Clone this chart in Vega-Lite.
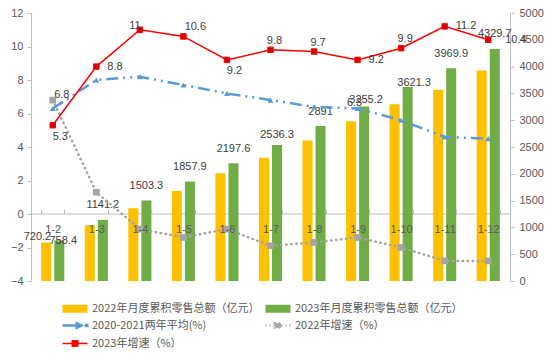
{
  "$schema": "https://vega.github.io/schema/vega-lite/v6.json",
  "width": 479,
  "height": 268,
  "autosize": {"type": "none"},
  "padding": {"left": 31, "top": 13, "right": 44, "bottom": 81},
  "background": "white",
  "config": {"view": {"stroke": null}, "font": "Liberation Sans"},
  "datasets": {
    "d": [
      {"m": "1-2", "series": "2022年月度累积零售总额（亿元）", "v": 720.2},
      {"m": "1-3", "series": "2022年月度累积零售总额（亿元）", "v": 1041},
      {"m": "1-4", "series": "2022年月度累积零售总额（亿元）", "v": 1357},
      {"m": "1-5", "series": "2022年月度累积零售总额（亿元）", "v": 1679},
      {"m": "1-6", "series": "2022年月度累积零售总额（亿元）", "v": 2008},
      {"m": "1-7", "series": "2022年月度累积零售总额（亿元）", "v": 2300},
      {"m": "1-8", "series": "2022年月度累积零售总额（亿元）", "v": 2621},
      {"m": "1-9", "series": "2022年月度累积零售总额（亿元）", "v": 2980},
      {"m": "1-10", "series": "2022年月度累积零售总额（亿元）", "v": 3296},
      {"m": "1-11", "series": "2022年月度累积零售总额（亿元）", "v": 3569},
      {"m": "1-12", "series": "2022年月度累积零售总额（亿元）", "v": 3928},
      {"m": "1-2", "series": "2023年月度累积零售总额（亿元）", "v": 758.4},
      {"m": "1-3", "series": "2023年月度累积零售总额（亿元）", "v": 1141.2},
      {"m": "1-4", "series": "2023年月度累积零售总额（亿元）", "v": 1503.3},
      {"m": "1-5", "series": "2023年月度累积零售总额（亿元）", "v": 1857.9},
      {"m": "1-6", "series": "2023年月度累积零售总额（亿元）", "v": 2197.6},
      {"m": "1-7", "series": "2023年月度累积零售总额（亿元）", "v": 2536.3},
      {"m": "1-8", "series": "2023年月度累积零售总额（亿元）", "v": 2891},
      {"m": "1-9", "series": "2023年月度累积零售总额（亿元）", "v": 3255.2},
      {"m": "1-10", "series": "2023年月度累积零售总额（亿元）", "v": 3621.3},
      {"m": "1-11", "series": "2023年月度累积零售总额（亿元）", "v": 3969.9},
      {"m": "1-12", "series": "2023年月度累积零售总额（亿元）", "v": 4329.7},
      {"m": "1-2", "series": "2020-2021两年平均(%)", "v": 6.3},
      {"m": "1-3", "series": "2020-2021两年平均(%)", "v": 8.0},
      {"m": "1-4", "series": "2020-2021两年平均(%)", "v": 8.2},
      {"m": "1-5", "series": "2020-2021两年平均(%)", "v": 7.7},
      {"m": "1-6", "series": "2020-2021两年平均(%)", "v": 7.2},
      {"m": "1-7", "series": "2020-2021两年平均(%)", "v": 6.8},
      {"m": "1-8", "series": "2020-2021两年平均(%)", "v": 6.4},
      {"m": "1-9", "series": "2020-2021两年平均(%)", "v": 6.3},
      {"m": "1-10", "series": "2020-2021两年平均(%)", "v": 5.6},
      {"m": "1-11", "series": "2020-2021两年平均(%)", "v": 4.6},
      {"m": "1-12", "series": "2020-2021两年平均(%)", "v": 4.5},
      {"m": "1-2", "series": "2022年增速（%）", "v": 6.8},
      {"m": "1-3", "series": "2022年增速（%）", "v": 1.3},
      {"m": "1-4", "series": "2022年增速（%）", "v": -0.9},
      {"m": "1-5", "series": "2022年增速（%）", "v": -1.4},
      {"m": "1-6", "series": "2022年增速（%）", "v": -0.9},
      {"m": "1-7", "series": "2022年增速（%）", "v": -1.9},
      {"m": "1-8", "series": "2022年增速（%）", "v": -1.7},
      {"m": "1-9", "series": "2022年增速（%）", "v": -1.4},
      {"m": "1-10", "series": "2022年增速（%）", "v": -2.0},
      {"m": "1-11", "series": "2022年增速（%）", "v": -2.8},
      {"m": "1-12", "series": "2022年增速（%）", "v": -2.8},
      {"m": "1-2", "series": "2023年增速（%）", "v": 5.3},
      {"m": "1-3", "series": "2023年增速（%）", "v": 8.8},
      {"m": "1-4", "series": "2023年增速（%）", "v": 11},
      {"m": "1-5", "series": "2023年增速（%）", "v": 10.6},
      {"m": "1-6", "series": "2023年增速（%）", "v": 9.2},
      {"m": "1-7", "series": "2023年增速（%）", "v": 9.8},
      {"m": "1-8", "series": "2023年增速（%）", "v": 9.7},
      {"m": "1-9", "series": "2023年增速（%）", "v": 9.2},
      {"m": "1-10", "series": "2023年增速（%）", "v": 9.9},
      {"m": "1-11", "series": "2023年增速（%）", "v": 11.2},
      {"m": "1-12", "series": "2023年增速（%）", "v": 10.4}
    ]
  },
  "data": {"name": "d"},
  "resolve": {"scale": {"y": "independent"}},
  "layer": [
    {
      "data": {"values": [{}]},
      "mark": {"type": "rule", "color": "#BFBFBF", "strokeWidth": 1},
      "encoding": {
        "y": {"datum": 0, "type": "quantitative", "scale": {"domain": [-4, 12], "nice": false, "zero": false}, "axis": null}
      }
    },
    {
      "transform": [{"filter": {"field": "series", "oneOf": ["2022年月度累积零售总额（亿元）", "2023年月度累积零售总额（亿元）"]}}],
      "encoding": {
        "x": {"field": "m", "type": "nominal", "scale": {"domain": ["1-2","1-3","1-4","1-5","1-6","1-7","1-8","1-9","1-10","1-11","1-12"], "paddingInner": 0.47, "paddingOuter": 0.235},
          "axis": {"orient": "bottom", "offset": -67, "domain": false, "ticks": true, "tickBand": "extent", "tickSize": -5, "tickColor": "#BFBFBF", "labelPadding": 14, "labelColor": "#595959", "labelFontSize": 11, "labelFont": "Liberation Sans", "labelAngle": 0, "title": null, "zindex": 1, "grid": false}},
        "y": {"field": "v", "type": "quantitative", "scale": {"domain": [0, 5000], "nice": false},
          "axis": {"orient": "right", "values": [0,500,1000,1500,2000,2500,3000,3500,4000,4500,5000], "format": "d", "domain": true, "domainColor": "#BFBFBF", "ticks": true, "tickColor": "#BFBFBF", "tickSize": 4, "labelPadding": 5, "labelColor": "#595959", "labelFontSize": 11, "labelFont": "Liberation Sans", "title": null, "grid": false}}
      },
      "layer": [
        {
          "mark": {"type": "bar"},
          "encoding": {
            "xOffset": {"field": "series", "type": "nominal", "sort": ["2022年月度累积零售总额（亿元）", "2023年月度累积零售总额（亿元）"], "scale": {"paddingInner": 0.23}},
            "color": {"field": "series", "type": "nominal",
              "scale": {"domain": ["2022年月度累积零售总额（亿元）", "2020-2021两年平均(%)", "2023年增速（%）", "2023年月度累积零售总额（亿元）", "2022年增速（%）"], "range": ["#FFC000", "#5B9BD5", "#FF0000", "#70AD47", "#A5A5A5"]},
              "legend": {"orient": "none", "legendX": 38.5, "legendY": 290, "columns": 2, "title": null, "padding": 0,
                "labelFont": "Noto Sans CJK SC", "labelFontSize": 11, "labelColor": "#595959", "labelLimit": 400,
                "symbolSize": 100, "labelOffset": 11.5, "rowPadding": 4, "columnPadding": 1,
                "encode": {"symbols": {"update": {
                  "shape": {"signal": "datum.value == '2022年月度累积零售总额（亿元）' || datum.value == '2023年月度累积零售总额（亿元）' ? 'M-2.5,-0.8H2.5V0.8H-2.5Z' : datum.value == '2020-2021两年平均(%)' ? 'M-2.5,0H1.0M0.35,-0.45L1.3,0L0.35,0.45ZM2.2,-0.12H2.45V0.12H2.2Z' : datum.value == '2022年增速（%）' ? 'M-2.5,0H2.5M-0.6,-0.45H0.6V0.45H-0.6Z' : 'M-2.5,0H2.5M-0.55,-0.55H0.55V0.55H-0.55Z'"},
                  "fill": {"signal": "datum.value == '2022年月度累积零售总额（亿元）' ? '#FFC000' : datum.value == '2023年月度累积零售总额（亿元）' ? '#70AD47' : datum.value == '2020-2021两年平均(%)' ? '#5B9BD5' : datum.value == '2022年增速（%）' ? '#A5A5A5' : '#C00000'"},
                  "stroke": {"signal": "datum.value == '2022年月度累积零售总额（亿元）' ? '#FFC000' : datum.value == '2023年月度累积零售总额（亿元）' ? '#70AD47' : datum.value == '2020-2021两年平均(%)' ? '#5B9BD5' : datum.value == '2022年增速（%）' ? '#A5A5A5' : '#FF0000'"},
                  "strokeWidth": {"signal": "datum.value == '2022年月度累积零售总额（亿元）' || datum.value == '2023年月度累积零售总额（亿元）' ? 0 : datum.value == '2023年增速（%）' ? 1.5 : 2.5"},
                  "strokeDash": {"signal": "datum.value == '2022年增速（%）' ? [1, 3] : [1, 0]"},
                  "opacity": {"value": 1}
                }}}
              }
            }
          }
        },
        {
          "transform": [{"filter": {"and": [{"field": "series", "equal": "2023年月度累积零售总额（亿元）"}, {"field": "m", "oneOf": ["1-3","1-4","1-5","1-6","1-8","1-11","1-12"]}]}}],
          "mark": {"type": "text", "baseline": "middle", "align": "center", "dx": 6.5, "dy": -14.5, "fontSize": 11, "color": "#404040"},
          "encoding": {"text": {"field": "v", "type": "quantitative"}}
        },
        {
          "transform": [{"filter": {"and": [{"field": "series", "equal": "2023年月度累积零售总额（亿元）"}, {"field": "m", "equal": "1-7"}]}}],
          "mark": {"type": "text", "baseline": "middle", "align": "center", "dx": 6.5, "dy": -10, "fontSize": 11, "color": "#404040"},
          "encoding": {"text": {"field": "v", "type": "quantitative"}}
        },
        {
          "transform": [{"filter": {"and": [{"field": "series", "equal": "2023年月度累积零售总额（亿元）"}, {"field": "m", "equal": "1-9"}]}}],
          "mark": {"type": "text", "baseline": "middle", "align": "center", "dx": 8.5, "dy": -6.5, "fontSize": 11, "color": "#404040"},
          "encoding": {"text": {"field": "v", "type": "quantitative"}}
        },
        {
          "transform": [{"filter": {"and": [{"field": "series", "equal": "2023年月度累积零售总额（亿元）"}, {"field": "m", "equal": "1-10"}]}}],
          "mark": {"type": "text", "baseline": "middle", "align": "center", "dx": 13, "dy": -4, "fontSize": 11, "color": "#404040"},
          "encoding": {"text": {"field": "v", "type": "quantitative"}}
        },
        {
          "transform": [{"filter": {"and": [{"field": "series", "equal": "2023年月度累积零售总额（亿元）"}, {"field": "m", "equal": "1-2"}]}}],
          "mark": {"type": "text", "baseline": "middle", "align": "center", "dx": 10.5, "dy": 0.5, "fontSize": 11, "color": "#404040"},
          "encoding": {"text": {"field": "v", "type": "quantitative"}}
        },
        {
          "transform": [{"filter": {"and": [{"field": "series", "equal": "2022年月度累积零售总额（亿元）"}, {"field": "m", "equal": "1-2"}]}}],
          "mark": {"type": "text", "baseline": "middle", "align": "center", "dx": -15.3, "dy": -5, "fontSize": 11, "color": "#404040"},
          "encoding": {"text": {"field": "v", "type": "quantitative"}}
        }
      ]
    },
    {
      "transform": [{"filter": {"field": "series", "oneOf": ["2020-2021两年平均(%)", "2022年增速（%）", "2023年增速（%）"]}}],
      "encoding": {
        "x": {"field": "m", "type": "nominal", "scale": {"domain": ["1-2","1-3","1-4","1-5","1-6","1-7","1-8","1-9","1-10","1-11","1-12"], "paddingInner": 0.47, "paddingOuter": 0.235},
          "axis": {"orient": "bottom", "offset": -67, "domain": false, "ticks": true, "tickBand": "extent", "tickSize": -5, "tickColor": "#BFBFBF", "labelPadding": 14, "labelColor": "#595959", "labelFontSize": 11, "labelFont": "Liberation Sans", "labelAngle": 0, "title": null, "zindex": 1, "grid": false}},
        "y": {"field": "v", "type": "quantitative", "scale": {"domain": [-4, 12], "nice": false, "zero": false},
          "axis": {"orient": "left", "values": [-4,-2,0,2,4,6,8,10,12], "domain": true, "domainColor": "#BFBFBF", "ticks": true, "tickColor": "#BFBFBF", "tickSize": 4, "labelPadding": 4, "labelColor": "#595959", "labelFontSize": 11, "labelFont": "Liberation Sans", "title": null, "grid": false}},
        "order": {"value": null}
      },
      "layer": [
        {
          "transform": [{"filter": {"field": "series", "equal": "2022年增速（%）"}}],
          "mark": {"type": "line", "color": "#A5A5A5", "strokeWidth": 2.5, "strokeDash": [0.5, 4.5], "strokeCap": "round"}
        },
        {
          "transform": [{"filter": {"field": "series", "equal": "2022年增速（%）"}}],
          "mark": {"type": "point", "shape": "square", "filled": true, "size": 45, "color": "#A5A5A5", "opacity": 1}
        },
        {
          "transform": [{"filter": {"field": "series", "equal": "2020-2021两年平均(%)"}}],
          "mark": {"type": "line", "color": "#5B9BD5", "strokeWidth": 2.5, "strokeDash": [12, 5, 2, 5, 2, 5]}
        },
        {
          "transform": [{"filter": {"field": "series", "equal": "2020-2021两年平均(%)"}}],
          "mark": {"type": "point", "shape": "triangle-up", "filled": true, "size": 35, "color": "#5B9BD5", "opacity": 1}
        },
        {
          "transform": [{"filter": {"field": "series", "equal": "2023年增速（%）"}}],
          "mark": {"type": "line", "color": "#FF0000", "strokeWidth": 1.5}
        },
        {
          "transform": [{"filter": {"field": "series", "equal": "2023年增速（%）"}}],
          "mark": {"type": "point", "shape": "square", "filled": true, "size": 30, "fill": "#D00000", "stroke": "#FF0000", "strokeWidth": 1, "opacity": 1}
        },
        {
          "transform": [{"filter": {"and": [{"field": "series", "equal": "2023年增速（%）"}, {"field": "m", "oneOf": ["1-7","1-8","1-10"]}]}}],
          "mark": {"type": "text", "baseline": "middle", "align": "center", "dx": 4, "dy": -9, "fontSize": 11, "color": "#404040"},
          "encoding": {"text": {"field": "v", "type": "quantitative"}}
        },
        {
          "transform": [{"filter": {"and": [{"field": "series", "equal": "2023年增速（%）"}, {"field": "m", "equal": "1-5"}]}}],
          "mark": {"type": "text", "baseline": "middle", "align": "center", "dx": 12, "dy": -9, "fontSize": 11, "color": "#404040"},
          "encoding": {"text": {"field": "v", "type": "quantitative"}}
        },
        {
          "transform": [{"filter": {"and": [{"field": "series", "equal": "2023年增速（%）"}, {"field": "m", "oneOf": ["1-2","1-6"]}]}}],
          "mark": {"type": "text", "baseline": "middle", "align": "center", "dx": 7.5, "dy": 11.5, "fontSize": 11, "color": "#404040"},
          "encoding": {"text": {"field": "v", "type": "quantitative"}}
        },
        {
          "transform": [{"filter": {"and": [{"field": "series", "equal": "2023年增速（%）"}, {"field": "m", "oneOf": ["1-3","1-9","1-11"]}]}}],
          "mark": {"type": "text", "baseline": "middle", "align": "left", "dx": 11, "dy": 0, "fontSize": 11, "color": "#404040"},
          "encoding": {"text": {"field": "v", "type": "quantitative"}}
        },
        {
          "transform": [{"filter": {"and": [{"field": "series", "equal": "2023年增速（%）"}, {"field": "m", "equal": "1-12"}]}}],
          "mark": {"type": "text", "baseline": "middle", "align": "left", "dx": 17, "dy": 0, "fontSize": 11, "color": "#404040"},
          "encoding": {"text": {"field": "v", "type": "quantitative"}}
        },
        {
          "transform": [{"filter": {"and": [{"field": "series", "equal": "2023年增速（%）"}, {"field": "m", "equal": "1-4"}]}}],
          "mark": {"type": "text", "baseline": "middle", "align": "center", "dx": -5, "dy": -3.5, "fontSize": 11, "color": "#404040"},
          "encoding": {"text": {"field": "v", "type": "quantitative"}}
        },
        {
          "transform": [{"filter": {"and": [{"field": "series", "equal": "2022年增速（%）"}, {"field": "m", "equal": "1-2"}]}}],
          "mark": {"type": "text", "baseline": "middle", "align": "center", "dx": 9, "dy": -5.5, "fontSize": 11, "color": "#404040"},
          "encoding": {"text": {"field": "v", "type": "quantitative"}}
        },
        {
          "transform": [{"filter": {"and": [{"field": "series", "equal": "2020-2021两年平均(%)"}, {"field": "m", "equal": "1-9"}]}}],
          "mark": {"type": "text", "baseline": "middle", "align": "center", "dx": -3, "dy": -5, "fontSize": 11, "color": "#404040"},
          "encoding": {"text": {"field": "v", "type": "quantitative"}}
        }
      ]
    }
  ]
}
